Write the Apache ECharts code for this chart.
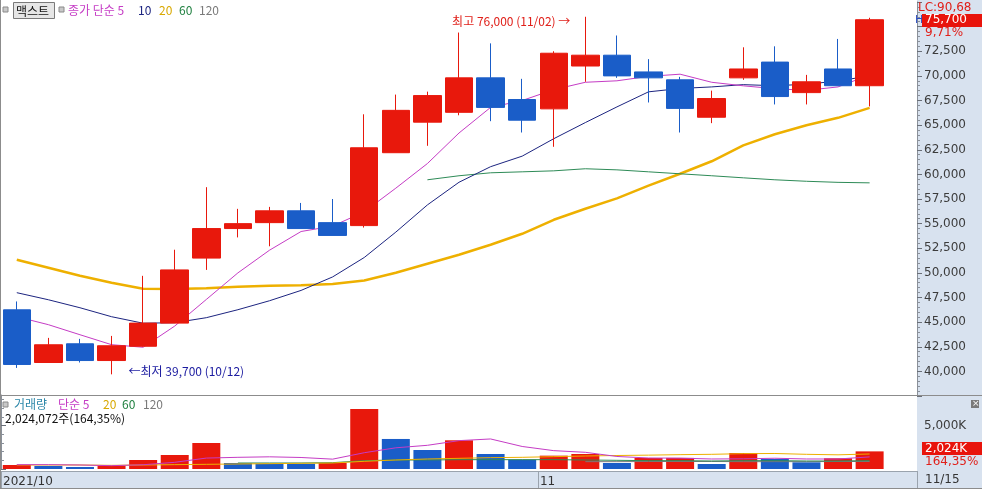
<!DOCTYPE html>
<html><head><meta charset="utf-8">
<script src="https://cdn.jsdelivr.net/npm/echarts@6/dist/echarts.min.js"></script>
<style>html,body{margin:0;padding:0;background:#fff}#c{width:982px;height:489px}</style>
</head><body><div id="c"></div>
<script>
// ---------- data ----------
const dates = ['10/06','10/07','10/08','10/12','10/13','10/14','10/15','10/18','10/19','10/20','10/21','10/22','10/25','10/26','10/27','10/28','10/29','11/01','11/02','11/03','11/04','11/05','11/08','11/09','11/10','11/11','11/12','11/15'];
const open  = [46250,40900,42800,41100,42550,44900,51500,54500,55100,56300,55100,54800,62200,65300,66300,69800,67600,66650,71000,72100,70400,69600,65800,69800,71400,68300,70700,69000];
const close = [40700,42700,41100,42600,44900,50300,54500,55000,56300,54500,53800,62700,66500,68000,69800,66800,65500,72300,72100,70000,69800,66700,67700,70700,67900,69400,69000,75700];
const low   = [40350,40900,40900,39700,42500,44900,50300,53600,52700,54500,53800,54600,62200,62900,66000,65400,64250,62800,69400,69800,67300,64250,65200,69600,67100,67100,69000,66900];
const high  = [47100,43400,43300,43600,49700,52350,58700,56500,56700,57100,57500,66100,68100,68400,74400,73300,69700,72500,76000,74100,71700,69900,68500,72900,73000,70100,73750,75900];
const ma5   = [45550,44740,43720,42710,42450,44600,47300,50000,52300,54200,54750,56200,58600,61100,64200,66800,67500,68600,69350,69500,69950,70170,69350,68990,68700,68530,68880,70100];
const ma10  = [47990,47270,46460,45550,44890,44940,45450,46260,47170,48220,49590,51560,54140,56900,59200,60780,61850,63620,65260,66850,68380,68720,68880,69110,69000,69150,69480,70000];
const ma20  = [51330,50520,49710,49000,48390,48360,48440,48590,48690,48750,48870,49230,50010,50930,51840,52850,53970,55390,56510,57560,58850,60060,61330,62950,64070,64990,65740,66750];
const ma60  = [null,null,null,null,null,null,null,null,null,null,null,null,null,59450,59860,60160,60260,60360,60570,60460,60260,60060,59860,59650,59450,59300,59190,59140];
const volume = [460000,345000,230000,383000,1035000,1610000,2990000,690000,613000,594000,690000,6900000,3450000,2185000,3297000,1725000,1073000,1533000,1725000,690000,1265000,1275000,575000,1840000,1150000,767000,1231560,2024072];
const volMa5  = [498000,498000,460000,383000,489000,767000,1255000,1342000,1399000,1322000,1131000,1869000,2434000,2722000,3258000,3450000,2588000,2108000,1917000,1438000,1265000,1246000,1150000,1169000,1236000,1150000,1150000,1390000];
const volMa20 = [460000,460000,460000,422000,460000,498000,537000,575000,613000,652000,690000,882000,1035000,1150000,1227000,1303000,1342000,1418000,1495000,1552000,1591000,1648000,1687000,1763000,1782000,1687000,1629000,1725000];
const volMa60 = [null,null,null,null,null,null,null,690000,690000,690000,728000,958000,1035000,1035000,1073000,1073000,1073000,1073000,1035000,997000,958000,958000,920000,958000,958000,920000,920000,958000];
const volMa120 = [null,null,null,null,null,null,null,null,null,null,null,null,null,null,null,null,null,null,843000,843000,862000,862000,862000,843000,843000,843000,862000,862000];
const stockName = '맥스트';
const lcText = 'LC:90,68';
const priceLabelMin = 40000, priceLabelMax = 72500, priceInterval = 2500;
const volInterval = 5000000;
const dateLabels = ['2021/10', '11'];

// ---------- helpers ----------
const N = dates.length;
const cats = dates.concat(['']);
const RED = '#e8180c', BLUE = '#1a5dc8';
const C5 = '#c53cc5', C10 = '#1c2480', C20 = '#eeb000', C60 = '#2e8b57', C120 = '#7a7a7a';
const fmt = v => Math.round(v).toLocaleString('en-US');
const dec = (v, d) => v.toFixed(d).replace('.', ',');
const lastClose = close[N-1], prevClose = close[N-2];
const chgPct = dec((lastClose / prevClose - 1) * 100, 2);
const lastVol = volume[N-1];
const volPct = dec(lastVol / volume[N-2] * 100, 2);
let hiIdx = 0, loIdx = 0;
high.forEach((v,i)=>{ if (v > high[hiIdx]) hiIdx = i; });
low.forEach((v,i)=>{ if (v < low[loIdx]) loIdx = i; });
let monthIdx = dates.findIndex((d,i)=> i>0 && d.slice(0,2) !== dates[i-1].slice(0,2));

const NUMFONT = "'DejaVu Sans', 'Liberation Sans', sans-serif";
const KFONT = "'Noto Sans CJK KR', 'Liberation Sans', sans-serif";

function line(data, color, width, xi, yi, z) {
  return {type:'line', data, xAxisIndex:xi, yAxisIndex:yi, symbol:'none', showSymbol:false,
    lineStyle:{color, width}, z, silent:true, connectNulls:false, animation:false};
}
function txt(x, y, text, fill, size, font, extra) {
  return Object.assign({type:'text', x, y, z:100, silent:true,
    style:{text, fill, font: (size||12) + 'px ' + (font||KFONT), verticalAlign:'middle', textVerticalAlign:'middle'}}, extra||{});
}

const chart = echarts.init(document.getElementById('c'), null, {renderer:'canvas'});
const baseGraphic = [
    {type:'rect', z:-10, silent:true, shape:{x:917, y:0, width:65, height:471}, style:{fill:'#d8e2ef'}},
    {type:'rect', z:-10, silent:true, shape:{x:0, y:471, width:982, height:18}, style:{fill:'#d8e2ef'}},
    {type:'line', z:50, silent:true, shape:{x1:0.5, y1:0, x2:0.5, y2:489}, style:{stroke:'#8c8c8c', lineWidth:1}},
    {type:'line', z:50, silent:true, shape:{x1:0, y1:395.5, x2:982, y2:395.5}, style:{stroke:'#8c8c8c', lineWidth:1}},
    {type:'line', z:50, silent:true, shape:{x1:917.5, y1:471, x2:917.5, y2:489}, style:{stroke:'#9aa3ad', lineWidth:1}},
    {type:'line', z:50, silent:true, shape:{x1:0, y1:488.5, x2:982, y2:488.5}, style:{stroke:'#8c8c8c', lineWidth:1}},
    // top legend
    {type:'rect', z:100, silent:true, shape:{x:3, y:7, width:5, height:5}, style:{fill:'#c8c8c8', stroke:'#8a8a8a', lineWidth:1}},
    {type:'rect', z:100, silent:true, shape:{x:13.5, y:2.5, width:41, height:16}, style:{fill:'#e6e6e6', stroke:'#7a7a7a', lineWidth:1}},
    txt(16, 11, stockName, '#111111', 12),
    {type:'rect', z:100, silent:true, shape:{x:59, y:7, width:5, height:5}, style:{fill:'#c8c8c8', stroke:'#8a8a8a', lineWidth:1}},
    txt(68, 10, '종가 단순 5', C5, 12),
    txt(138, 10, '10', C10, 12, KFONT),
    txt(159, 10, '20', '#d8a800', 12, KFONT),
    txt(179, 10, '60', '#208040', 12, KFONT),
    txt(199, 10, '120', C120, 12, KFONT),
    // volume legend
    {type:'rect', z:100, silent:true, shape:{x:3, y:402, width:5, height:5}, style:{fill:'#c8c8c8', stroke:'#8a8a8a', lineWidth:1}},
    txt(14, 404, '거래량', '#2a86a8', 12),
    txt(58, 404, '단순 5', C5, 12),
    txt(103, 404, '20', '#d8a800', 12, KFONT),
    txt(122, 404, '60', '#208040', 12, KFONT),
    txt(143, 404, '120', C120, 12, KFONT),
    txt(5, 418, fmt(lastVol) + '주(' + volPct + '%)', '#111111', 12),
    // close button in volume pane
    {type:'rect', z:100, silent:true, shape:{x:971, y:400, width:8, height:8}, style:{fill:'#7a7a7a'}},
    txt(972, 404, '×', '#ffffff', 9, NUMFONT),
    // last date in the corner
    txt(925, 480, dates[N-1], '#333333', 12, NUMFONT)
];

chart.setOption({
  animation: false,
  backgroundColor: '#ffffff',
  textStyle: {fontFamily: KFONT},
  grid: [
    {left: 1, top: 2, width: 916, height: 394},
    {left: 1, top: 395, width: 916, height: 74}
  ],
  xAxis: [
    {type:'category', gridIndex:0, data:cats, boundaryGap:true, show:false},
    {type:'category', gridIndex:1, data:cats, boundaryGap:true, show:false},
    {type:'value', gridIndex:1, min:0, max:cats.length, position:'bottom', offset:2,
      axisLine:{show:true, lineStyle:{color:'#9aa3ad', width:1}},
      axisTick:{show:true, customValues:[0, monthIdx], length:19, lineStyle:{color:'#9aa3ad'}},
      axisLabel:{show:true, customValues:[0, monthIdx], align:'left', margin:5, padding:[0,0,0,2],
        formatter: v => v === 0 ? dateLabels[0] : dateLabels[1], color:'#333', fontSize:12, fontFamily:NUMFONT},
      splitLine:{show:false}}
  ],
  yAxis: [
    {type:'value', gridIndex:0, position:'right', min:37500, max:77500, interval:priceInterval,
      axisLine:{show:true, lineStyle:{color:'#8a9099'}},
      axisTick:{show:true, length:5, lineStyle:{color:'#6a6f78'}},
      minorTick:{show:true, splitNumber:5, length:3, lineStyle:{color:'#8a9099'}},
      splitLine:{show:false},
      axisLabel:{margin:7, color:'#3c3c3c', fontSize:12, fontFamily:NUMFONT,
        formatter: v => (v < priceLabelMin || v > priceLabelMax) ? '' : fmt(v)}},
    {type:'value', gridIndex:1, position:'right', min:0, max:8500000, interval:volInterval,
      axisLine:{show:true, lineStyle:{color:'#8a9099'}},
      axisTick:{show:true, length:5, lineStyle:{color:'#6a6f78'}},
      minorTick:{show:true, splitNumber:5, length:3, lineStyle:{color:'#8a9099'}},
      splitLine:{show:false},
      axisLabel:{margin:7, color:'#3c3c3c', fontSize:12, fontFamily:NUMFONT,
        formatter: v => (v > 0 && v % volInterval === 0) ? fmt(v/1000) + 'K' : ''}}
  ],
  series: [
    line(ma20, C20, 2.5, 0, 0, 3),
    line(ma60, C60, 1, 0, 0, 3),
    line(ma10, C10, 1, 0, 0, 3),
    line(ma5, C5, 1, 0, 0, 3),
    {type:'candlestick', xAxisIndex:0, yAxisIndex:0, z:5, barWidth:28,
      data: dates.map((d,i)=>[open[i], close[i], low[i], high[i]]),
      itemStyle:{color:RED, color0:BLUE, borderColor:RED, borderColor0:BLUE, borderWidth:1},
      markPoint:{symbol:'circle', symbolSize:0, silent:true, animation:false, data:[
        {coord:[hiIdx, high[hiIdx]], label:{show:true, position:'left', distance:15, offset:[0,5],
          formatter:'최고 ' + fmt(high[hiIdx]) + ' (' + dates[hiIdx] + ') →', color:'#e0201a', fontSize:12, fontFamily:KFONT}},
        {coord:[loIdx, low[loIdx]], label:{show:true, position:'right', distance:17, offset:[0,-3],
          formatter:'←최저 ' + fmt(low[loIdx]) + ' (' + dates[loIdx] + ')', color:'#1c1ca0', fontSize:12, fontFamily:KFONT}}
      ]}
    },
    {type:'bar', xAxisIndex:1, yAxisIndex:1, barWidth:28, z:2,
      data: volume.map((v,i)=>({value:v, itemStyle:{color:(i===0 || v >= volume[i-1]) ? RED : BLUE}}))
    },
    line(volMa120, C120, 1, 1, 1, 4),
    line(volMa60, C60, 1, 1, 1, 4),
    line(volMa20, C20, 1, 1, 1, 4),
    line(volMa5, C5, 1, 1, 1, 4)
  ],
  graphic: baseGraphic
});

// current-value tags on the right axes, positioned through the axes' own scales
const yP = chart.convertToPixel({yAxisIndex:0}, lastClose);
const yV = chart.convertToPixel({yAxisIndex:1}, lastVol);
chart.setOption({graphic: baseGraphic.concat([
  txt(918, yP - 12, lcText, '#e0201a', 12, NUMFONT),
  txt(915, yP, 'H', '#2a4cc0', 11, NUMFONT),
  {type:'rect', z:100, silent:true, shape:{x:922, y:Math.round(yP) - 6, width:60, height:13}, style:{fill:'#e8140c'}},
  txt(925, yP + 0.5, fmt(lastClose), '#ffffff', 12, NUMFONT),
  txt(925, yP + 13, chgPct + '%', '#e0201a', 12, NUMFONT),
  {type:'rect', z:100, silent:true, shape:{x:922, y:Math.round(yV) - 9, width:60, height:13}, style:{fill:'#e8140c'}},
  txt(925, yV - 2.5, fmt(lastVol/1000) + 'K', '#ffffff', 12, NUMFONT),
  txt(925, yV + 10.5, volPct + '%', '#e0201a', 12, NUMFONT)
])});
</script>
</body></html>
